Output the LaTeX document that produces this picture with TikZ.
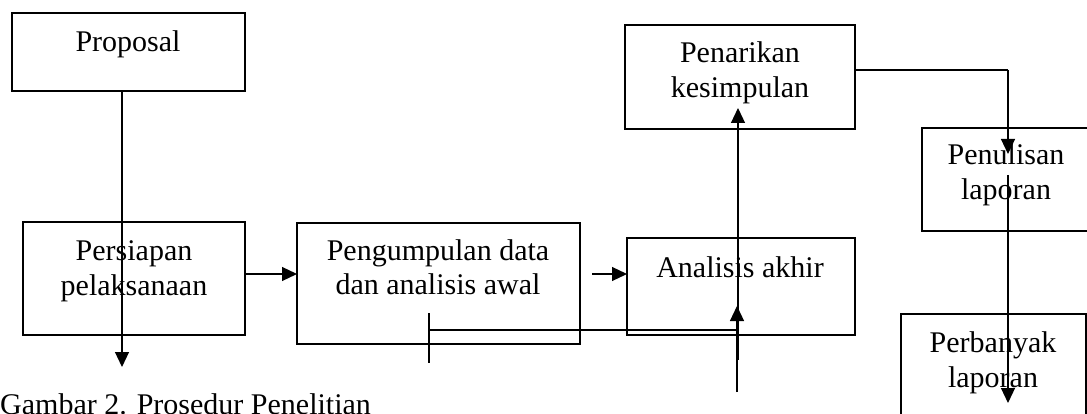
\documentclass[tikz,border=0pt]{standalone}
\usepackage{fontspec}
\setmainfont{Liberation Serif}
\usetikzlibrary{arrows.meta}

\begin{document}
\begin{tikzpicture}[x=1pt,y=-1pt,
  box/.style={draw, line width=1.2pt, rectangle, inner sep=0pt, outer sep=0pt},
  lbl/.style={anchor=base, inner sep=0pt, font=\fontsize{30}{34}\selectfont},
  link/.style={line width=1.2pt},
  arr/.style={line width=1.2pt, -{Triangle[length=15pt,width=14pt]}}]
\useasboundingbox (0,0) rectangle (1087,414);

% boxes
\node[box, minimum width=233pt, minimum height=78pt]  (prop)   at (128.5,52)   {};
\node[box, minimum width=222pt, minimum height=113pt] (pers)   at (134,278.5)  {};
\node[box, minimum width=283pt, minimum height=121pt] (peng)   at (438.5,283.5){};
\node[box, minimum width=228pt, minimum height=97pt]  (akhir)  at (741,286.5)  {};
\node[box, minimum width=230pt, minimum height=104pt] (tarik)  at (740,77)     {};
\node[box, minimum width=167pt, minimum height=103pt] (tulis)  at (1005.5,179.5){};
\node[box, minimum width=185pt, minimum height=106pt] (banyak) at (993.5,367)  {};

% box texts
\node[lbl] (propT)    at (128,52)  {Proposal};
\node[lbl] (persT1)   at (134,261) {Persiapan};
\node[lbl] (persT2)   at (134,295) {pelaksanaan};
\node[lbl] (pengT1)   at (438,260) {Pengumpulan data};
\node[lbl] (pengT2)   at (438,294) {dan analisis awal};
\node[lbl] (akhirT)   at (740,277) {Analisis akhir};
\node[lbl] (tarikT1)  at (740,63)  {Penarikan};
\node[lbl] (tarikT2)  at (740,98)  {kesimpulan};
\node[lbl] (tulisT1)  at (1006,165){Penulisan};
\node[lbl] (tulisT2)  at (1006,200){laporan};
\node[lbl] (banyakT1) at (993,352) {Perbanyak};
\node[lbl] (banyakT2) at (993,387) {laporan};

% caption
\node[lbl, anchor=base west] (cap) at (0,414) {Gambar 2. Prosedur Penelitian};

% free ends of connectors
\coordinate (propEnd)  at (122,367);
\coordinate (row)      at (0,274);
\coordinate (pengOut)  at (592,274);
\coordinate (upFoot)   at (738,360);
\coordinate (upTip)    at (738,108);
\coordinate (fbFoot)   at (737,392);
\coordinate (fbTip)    at (737,306);
\coordinate (fbLeft)   at (429,330);
\coordinate (fbRight)  at (737,330);
\coordinate (tickTop)  at (429,313);
\coordinate (tickBot)  at (429,363);
\coordinate (outRow)   at (0,70);
\coordinate (bend)     at (1008,70);
\coordinate (tulisTip) at (1008,154);
\coordinate (tulisOut) at (1008,175);
\coordinate (banyakTip)at (1008,403);

% connectors
\draw[arr]  (prop.south -| propEnd) -- (propEnd);
\draw[arr]  (pers.east |- row) -- (peng.west |- row);
\draw[arr]  (pengOut) -- (akhir.west |- pengOut);
\draw[arr]  (upFoot) -- (upTip);
\draw[arr]  (fbFoot) -- (fbTip);
\draw[link] (fbLeft) -- (fbRight);
\draw[link] (tickTop) -- (tickBot);
\draw[link] (tarik.east |- outRow) -- (bend);
\draw[arr]  (bend) -- (tulisTip);
\draw[arr]  (tulisOut) -- (banyakTip);
\end{tikzpicture}
\end{document}
